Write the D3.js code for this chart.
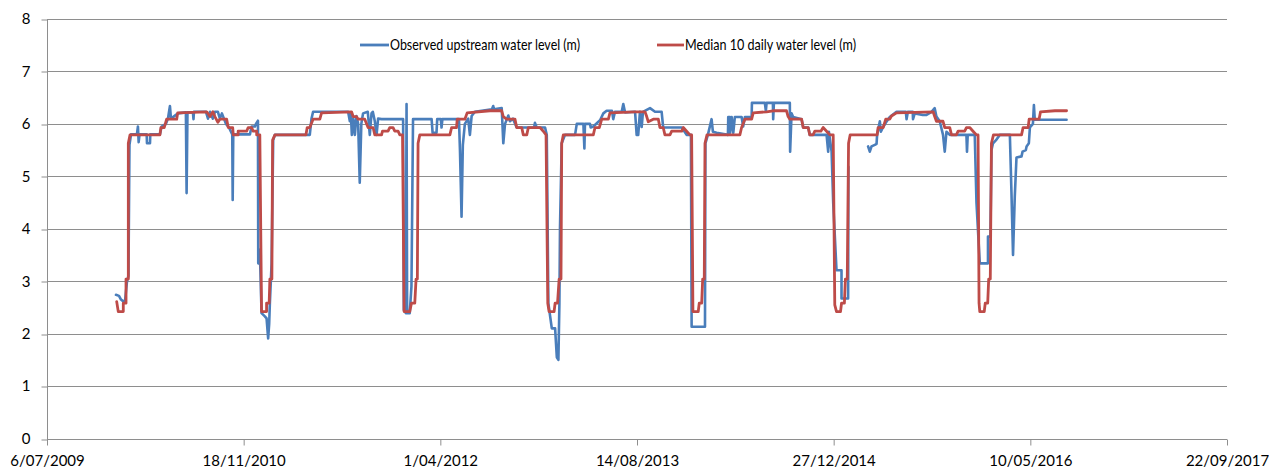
<!DOCTYPE html>
<html>
<head>
<meta charset="utf-8">
<script src="https://cdn.jsdelivr.net/npm/d3@7"></script>
<style>
  body { margin: 0; background: #fff; }
  text { font-family: Lato, "Open Sans", sans-serif; fill: #000; }
</style>
</head>
<body>
<div id="chart"></div>
<script>
// x positions are decimal years, values are metres
var tickDates = ["2009-07-06", "2010-11-18", "2012-04-01", "2013-08-14", "2014-12-27", "2016-05-10", "2017-09-22"];
var yTicks = [0, 1, 2, 3, 4, 5, 6, 7, 8];
var seriesNames = ["Observed upstream water level (m)", "Median 10 daily water level (m)"];

var medYears = [2009.995, 2010.006, 2010.041, 2010.041, 2010.060, 2010.060, 2010.076, 2010.076, 2010.088, 2010.296,
  2010.303, 2010.326, 2010.343, 2010.413, 2010.420, 2010.622, 2010.645, 2010.665, 2010.679, 2010.700,
  2010.714, 2010.761, 2010.772, 2010.803, 2010.807, 2010.841, 2010.841, 2010.900, 2010.911, 2010.935,
  2010.946, 2010.970, 2010.970, 2010.992, 2011.004, 2011.039, 2011.039, 2011.057, 2011.062, 2011.076,
  2011.081, 2011.097, 2011.313, 2011.322, 2011.340, 2011.363, 2011.410, 2011.422, 2011.631, 2011.642,
  2011.665, 2011.677, 2011.723, 2011.746, 2011.781, 2011.793, 2011.840, 2011.846, 2011.885, 2011.897,
  2011.920, 2011.932, 2011.955, 2011.967, 2011.986, 2011.997, 2012.036, 2012.048, 2012.071, 2012.080,
  2012.089, 2012.094, 2012.106, 2012.315, 2012.327, 2012.361, 2012.366, 2012.419, 2012.435, 2012.593,
  2012.675, 2012.686, 2012.709, 2012.767, 2012.779, 2012.814, 2012.825, 2012.849, 2012.860, 2012.941,
  2012.964, 2012.983, 2012.995, 2013.004, 2013.039, 2013.046, 2013.063, 2013.074, 2013.087, 2013.092,
  2013.103, 2013.312, 2013.324, 2013.354, 2013.371, 2013.417, 2013.428, 2013.603, 2013.672, 2013.684,
  2013.695, 2013.730, 2013.765, 2013.776, 2013.799, 2013.811, 2013.846, 2013.858, 2013.928, 2013.939,
  2013.962, 2013.985, 2013.997, 2014.006, 2014.043, 2014.050, 2014.067, 2014.074, 2014.085, 2014.090,
  2014.104, 2014.333, 2014.345, 2014.368, 2014.415, 2014.426, 2014.519, 2014.565, 2014.658, 2014.669,
  2014.681, 2014.763, 2014.774, 2014.809, 2014.820, 2014.843, 2014.855, 2014.897, 2014.913, 2014.937,
  2014.960, 2014.983, 2014.994, 2015.006, 2015.034, 2015.041, 2015.061, 2015.068, 2015.081, 2015.090,
  2015.101, 2015.289, 2015.296, 2015.331, 2015.349, 2015.377, 2015.389, 2015.424, 2015.679, 2015.690,
  2015.702, 2015.748, 2015.760, 2015.795, 2015.807, 2015.841, 2015.853, 2015.899, 2015.911, 2015.934,
  2015.957, 2015.981, 2015.992, 2015.999, 2016.004, 2016.035, 2016.042, 2016.059, 2016.066, 2016.077,
  2016.085, 2016.099, 2016.294, 2016.305, 2016.340, 2016.347, 2016.416, 2016.426, 2016.526, 2016.607];
var medLevels = [2.61, 2.42, 2.42, 2.58, 2.58, 3.04, 3.04, 5.63, 5.79, 5.79,
  5.93, 5.93, 6.09, 6.09, 6.21, 6.23, 6.14, 6.23, 6.14, 6.03,
  6.09, 6.09, 5.93, 5.93, 5.79, 5.79, 5.86, 5.86, 5.93, 5.93,
  5.86, 5.86, 5.79, 5.79, 2.42, 2.42, 2.58, 2.58, 3.04, 3.04,
  5.69, 5.79, 5.79, 5.93, 5.93, 6.09, 6.09, 6.21, 6.23, 6.14,
  6.14, 6.09, 6.09, 5.93, 5.93, 5.79, 5.79, 5.86, 5.86, 5.93,
  5.93, 5.86, 5.86, 5.79, 5.79, 2.42, 2.42, 2.58, 2.58, 3.04,
  3.04, 5.63, 5.79, 5.79, 5.93, 5.93, 6.09, 6.09, 6.21, 6.25,
  6.25, 6.14, 6.09, 6.09, 5.93, 5.93, 5.79, 5.79, 5.93, 5.93,
  5.86, 5.79, 2.58, 2.42, 2.42, 2.58, 2.58, 3.04, 3.04, 5.63,
  5.79, 5.79, 5.93, 5.93, 6.09, 6.09, 6.21, 6.23, 6.23, 6.14,
  6.04, 6.09, 6.09, 5.93, 5.93, 5.79, 5.79, 5.86, 5.86, 5.93,
  5.86, 5.79, 5.79, 2.42, 2.42, 2.58, 2.58, 3.04, 3.04, 5.63,
  5.79, 5.79, 5.93, 6.09, 6.09, 6.21, 6.23, 6.25, 6.25, 6.14,
  6.09, 6.09, 5.93, 5.93, 5.79, 5.79, 5.86, 5.86, 5.93, 5.86,
  5.79, 5.79, 2.55, 2.42, 2.42, 2.58, 2.58, 3.04, 3.04, 5.63,
  5.79, 5.79, 5.93, 5.93, 6.09, 6.09, 6.15, 6.21, 6.23, 6.14,
  6.05, 6.05, 5.93, 5.93, 5.79, 5.79, 5.86, 5.86, 5.93, 5.93,
  5.86, 5.79, 5.79, 2.58, 2.42, 2.42, 2.58, 2.58, 3.04, 3.04,
  5.63, 5.79, 5.79, 5.93, 5.93, 6.09, 6.09, 6.23, 6.25, 6.25];

// null marks the gap in the observed record
var obsYears = [2009.990, 2010.011, 2010.025, 2010.039, 2010.053, 2010.067, 2010.077, 2010.084, 2010.095, 2010.136,
  2010.143, 2010.148, 2010.154, 2010.204, 2010.206, 2010.227, 2010.229, 2010.296, 2010.308, 2010.338,
  2010.352, 2010.366, 2010.373, 2010.422, 2010.477, 2010.482, 2010.488, 2010.526, 2010.530, 2010.533,
  2010.617, 2010.631, 2010.645, 2010.665, 2010.679, 2010.700, 2010.714, 2010.728, 2010.756, 2010.777,
  2010.800, 2010.803, 2010.807, 2010.923, 2010.935, 2010.958, 2010.965, 2010.979, 2010.981, 2010.992,
  2011.004, 2011.027, 2011.039, 2011.050, 2011.057, 2011.062, 2011.074, 2011.085, 2011.097, 2011.340,
  2011.352, 2011.363, 2011.607, 2011.619, 2011.626, 2011.633, 2011.643, 2011.654, 2011.665, 2011.677,
  2011.688, 2011.699, 2011.711, 2011.744, 2011.758, 2011.770, 2011.779, 2011.793, 2011.805, 2011.816,
  2011.840, 2011.990, 2011.995, 2012.009, 2012.014, 2012.018, 2012.036, 2012.048, 2012.059, 2012.188,
  2012.195, 2012.222, 2012.227, 2012.252, 2012.257, 2012.263, 2012.378, 2012.385, 2012.396, 2012.405,
  2012.419, 2012.442, 2012.454, 2012.466, 2012.489, 2012.607, 2012.616, 2012.621, 2012.675, 2012.686,
  2012.698, 2012.721, 2012.732, 2012.753, 2012.779, 2012.900, 2012.906, 2012.918, 2012.976, 2012.988,
  2012.999, 2013.023, 2013.046, 2013.058, 2013.069, 2013.076, 2013.080, 2013.092, 2013.115, 2013.185,
  2013.197, 2013.243, 2013.250, 2013.254, 2013.289, 2013.294, 2013.312, 2013.359, 2013.382, 2013.405,
  2013.442, 2013.451, 2013.463, 2013.510, 2013.521, 2013.533, 2013.603, 2013.614, 2013.625, 2013.637,
  2013.649, 2013.658, 2013.707, 2013.742, 2013.788, 2013.799, 2013.928, 2013.962, 2013.992, 2013.997,
  2014.090, 2014.093, 2014.111, 2014.136, 2014.145, 2014.171, 2014.250, 2014.252, 2014.264, 2014.265,
  2014.276, 2014.287, 2014.298, 2014.345, 2014.356, 2014.368, 2014.415, 2014.417, 2014.507, 2014.514,
  2014.519, 2014.563, 2014.565, 2014.570, 2014.681, 2014.683, 2014.693, 2014.704, 2014.763, 2014.774,
  2014.809, 2014.820, 2014.937, 2014.948, 2014.953, 2014.972, 2014.983, 2015.006, 2015.041, 2015.041,
  2015.087, 2015.089, 2015.150, 2015.226, 2015.238, 2015.250, 2015.273, 2015.285, 2015.289, 2015.308,
  2015.315, 2015.329, 2015.349, 2015.377, 2015.424, 2015.489, 2015.494, 2015.503, 2015.537, 2015.539,
  2015.551, 2015.607, 2015.633, 2015.668, 2015.690, 2015.702, 2015.725, 2015.748, 2015.760, 2015.772,
  2015.795, 2015.911, 2015.915, 2015.920, 2015.969, 2015.981, 2016.004, 2016.061, 2016.061, 2016.078,
  2016.085, 2016.096, 2016.120, 2016.143, 2016.213, 2016.224, 2016.235, 2016.247, 2016.259, 2016.294,
  2016.301, 2016.324, 2016.329, 2016.345, 2016.352, 2016.373, 2016.380, 2016.386, 2016.607];
var obsLevels = [2.74, 2.72, 2.65, 2.62, 2.62, 3.0, 3.1, 5.6, 5.8, 5.8,
  5.95, 5.65, 5.8, 5.8, 5.63, 5.63, 5.8, 5.8, 5.95, 6.0,
  6.1, 6.34, 6.1, 6.2, 6.22, 4.68, 6.22, 6.22, 6.09, 6.23,
  6.23, 6.1, 6.23, 6.1, 6.23, 6.23, 6.1, 6.2, 6.0, 5.93,
  5.8, 4.55, 5.8, 5.8, 5.95, 5.95, 6.0, 6.06, 3.34, 3.6,
  2.39, 2.33, 2.29, 1.91, 2.18, 2.58, 3.34, 5.69, 5.79, 5.79,
  6.1, 6.23, 6.23, 6.05, 6.2, 5.79, 6.1, 5.79, 6.15, 6.0,
  4.88, 6.0, 6.2, 6.23, 5.79, 6.2, 6.23, 6.05, 5.79, 6.1,
  6.09, 6.09, 2.45, 2.39, 6.38, 2.39, 2.39, 2.9, 6.09, 6.09,
  5.83, 5.83, 6.09, 6.09, 5.93, 6.09, 6.09, 5.5, 4.23, 5.6,
  6.0, 6.1, 5.79, 6.15, 6.23, 6.28, 6.34, 6.28, 6.3, 5.63,
  6.0, 6.16, 6.05, 6.1, 5.93, 5.93, 6.02, 5.93, 5.93, 5.79,
  2.58, 2.1, 2.1, 1.55, 1.5, 2.58, 4.0, 5.63, 5.79, 5.79,
  6.0, 6.0, 5.53, 6.0, 6.0, 5.93, 5.95, 6.07, 6.2, 6.25,
  6.25, 6.09, 6.23, 6.23, 6.38, 6.22, 6.23, 5.79, 5.79, 6.23,
  5.94, 6.23, 6.3, 6.23, 6.23, 5.93, 5.93, 5.79, 5.79, 2.13,
  2.13, 5.63, 5.8, 6.09, 5.85, 5.83, 5.79, 6.13, 6.13, 5.83,
  6.13, 5.83, 6.13, 6.13, 5.95, 6.13, 6.13, 6.40, 6.40, 6.25,
  6.40, 6.40, 6.09, 6.40, 6.40, 5.47, 6.2, 6.13, 6.09, 5.93,
  5.93, 5.79, 5.79, 5.47, 5.85, 5.47, 4.5, 3.21, 3.21, 2.67,
  2.67, 5.18, null, 5.57, 5.47, 5.57, 5.6, 5.62, 5.79, 6.05,
  5.85, 5.93, 6.02, 6.13, 6.23, 6.23, 6.09, 6.23, 6.23, 6.09,
  6.2, 6.17, 6.17, 6.23, 6.3, 6.14, 6.05, 5.79, 5.47, 5.85,
  5.79, 5.79, 5.47, 5.79, 5.79, 4.5, 3.34, 3.34, 3.85, 3.85,
  5.5, 5.63, 5.7, 5.79, 5.79, 4.7, 3.5, 4.6, 5.36, 5.38,
  5.47, 5.5, 5.57, 5.63, 5.93, 6.0, 6.36, 6.08, 6.08];

var blueColor = "#4a7ebb";
var redColor = "#be4b48";
var gridColor = "#8e8e8e";

var width = 1269, height = 468;
var plotLeft = 47, plotRight = 1227, plotTop = 19, plotBottom = 438.5;

function yearToDate(v) {
    var yr = Math.floor(v);
    var a = Date.UTC(yr, 0, 1), b = Date.UTC(yr + 1, 0, 1);
    return new Date(a + (v - yr) * (b - a));
}

var parse = d3.utcParse("%Y-%m-%d");
var ticks = tickDates.map(parse);

var x = d3.scaleUtc()
    .domain([ticks[0], ticks[ticks.length - 1]])
    .range([plotLeft, plotRight]);

var y = d3.scaleLinear()
    .domain([0, 8])
    .range([plotBottom, plotTop]);

function crispY(d) { return Math.round(y(d)) + 0.5; }

var svg = d3.select("#chart")
    .append("svg")
    .attr("width", width)
    .attr("height", height);

// horizontal gridlines
svg.append("g")
    .selectAll("line")
    .data(yTicks.filter(function(d){ return d > 0; }))
    .enter().append("line")
    .attr("x1", plotLeft)
    .attr("x2", plotRight)
    .attr("y1", crispY)
    .attr("y2", crispY)
    .attr("stroke", gridColor)
    .attr("stroke-width", 1);

// y axis
var yAxis = svg.append("g")
    .attr("transform", "translate(" + (plotLeft + 0.5) + ",0)")
    .call(d3.axisLeft(y).tickValues(yTicks).tickSize(6).tickPadding(11).tickFormat(d3.format("d")));
yAxis.select(".domain").attr("stroke", gridColor).attr("d", "M0," + plotTop + "V" + crispY(0));
yAxis.selectAll(".tick line").attr("stroke", gridColor)
    .attr("transform", function(d){ return "translate(0," + (crispY(d) - y(d)) + ")"; });
yAxis.selectAll(".tick text")
    .attr("font-size", 15)
    .attr("font-family", "Lato, 'Open Sans', sans-serif")
    .attr("fill", "#000");

// x axis
var xAxis = svg.append("g")
    .attr("transform", "translate(0," + crispY(0) + ")")
    .call(d3.axisBottom(x).tickValues(ticks).tickSize(6).tickPadding(10).tickFormat(d3.utcFormat("%-d/%m/%Y")));
xAxis.select(".domain").attr("stroke", gridColor).attr("d", "M" + plotLeft + ",0H" + plotRight);
xAxis.selectAll(".tick line").attr("stroke", gridColor);
xAxis.selectAll(".tick text")
    .attr("font-size", 15)
    .attr("font-family", "Lato, 'Open Sans', sans-serif")
    .attr("fill", "#000");

var obsData = obsYears.map(function(d, i){ return { date: yearToDate(d), v: obsLevels[i] }; });
var medData = medYears.map(function(d, i){ return { date: yearToDate(d), v: medLevels[i] }; });

var line = d3.line()
    .defined(function(d){ return d.v != null; })
    .x(function(d){ return x(d.date); })
    .y(function(d){ return y(d.v); });

svg.append("path")
    .datum(obsData)
    .attr("d", line)
    .attr("fill", "none")
    .attr("stroke", blueColor)
    .attr("stroke-width", 2.6)
    .attr("stroke-linejoin", "round")
    .attr("stroke-linecap", "round");

svg.append("path")
    .datum(medData)
    .attr("d", line)
    .attr("fill", "none")
    .attr("stroke", redColor)
    .attr("stroke-width", 2.8)
    .attr("stroke-linejoin", "round")
    .attr("stroke-linecap", "round");

// legend
var legendItems = [
    { name: seriesNames[0], color: blueColor, x: 360, w: 29, len: 190 },
    { name: seriesNames[1], color: redColor, x: 657, w: 27, len: 171 }
];

var legend = svg.selectAll(".legend")
    .data(legendItems)
    .enter().append("g")
    .attr("class", "legend")
    .attr("transform", function(d){ return "translate(" + d.x + ",45)"; });

legend.append("line")
    .attr("x1", 0)
    .attr("x2", function(d){ return d.w; })
    .attr("y1", 0)
    .attr("y2", 0)
    .attr("stroke", function(d){ return d.color; })
    .attr("stroke-width", 2.8);

legend.append("text")
    .attr("x", function(d){ return d.w + 1; })
    .attr("y", 5)
    .attr("font-size", 15)
    .attr("textLength", function(d){ return d.len; })
    .attr("lengthAdjust", "spacingAndGlyphs")
    .text(function(d){ return d.name; });
</script>
</body>
</html>
